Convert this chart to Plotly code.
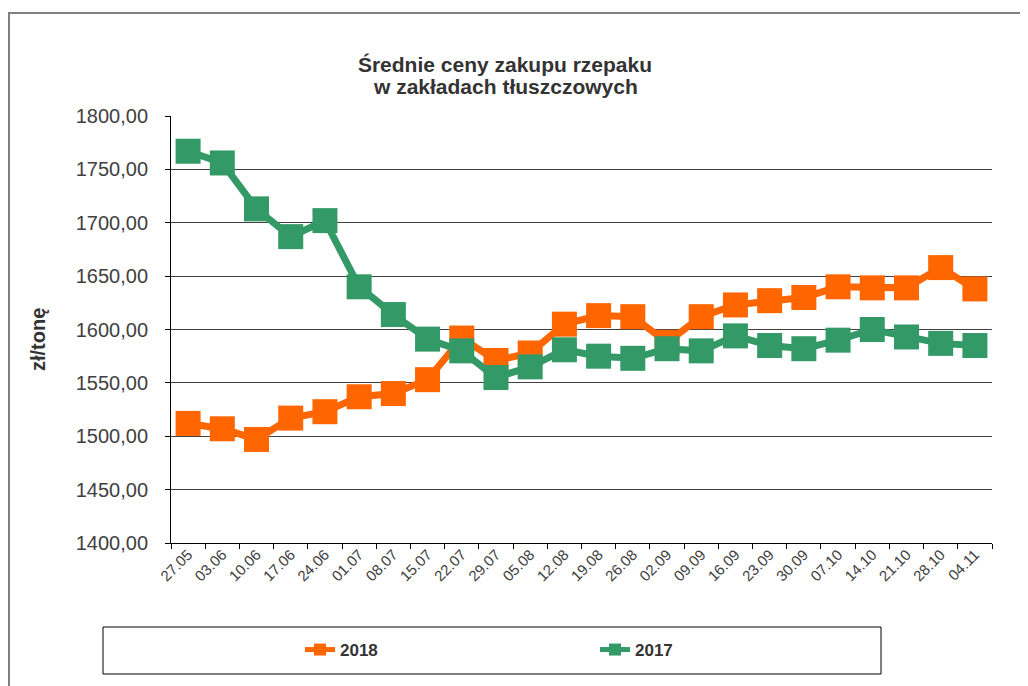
import plotly.graph_objects as go

# ---- data ----
categories = ["27.05", "03.06", "10.06", "17.06", "24.06", "01.07", "08.07", "15.07",
              "22.07", "29.07", "05.08", "12.08", "19.08", "26.08", "02.09", "09.09",
              "16.09", "23.09", "30.09", "07.10", "14.10", "21.10", "28.10", "04.11"]
values_2018 = [1512, 1507, 1497, 1517, 1523, 1537, 1540, 1553, 1592, 1571, 1578, 1605,
               1613, 1612, 1588, 1612, 1623, 1627, 1630, 1640, 1639, 1639, 1658, 1638]
values_2017 = [1767, 1756, 1713, 1687, 1702, 1640, 1614, 1591, 1580, 1555, 1565, 1581,
               1575, 1573, 1582, 1580, 1594, 1585, 1582, 1590, 1600, 1593, 1587, 1585]
series_names = ["2018", "2017"]
title_line1 = "Średnie ceny zakupu rzepaku"
title_line2 = "w zakładach tłuszczowych"
y_title = "zł/tonę"

ORANGE = "#FF6600"
GREEN = "#339966"
FONT = "Liberation Sans, Arial, sans-serif"

# page body has an 8px margin: figure sized so it ends at the window edge
W, H = 1020, 678
L, R, T, B = 163, 36, 108, 143
PW, PH = W - L - R, H - T - B


def px_x(wx):
    """window x -> paper x"""
    return (wx - 8 - L) / PW


def px_y(wy):
    """window y -> paper y"""
    return (H - B - (wy - 8)) / PH


fig = go.Figure()
fig.add_trace(go.Scatter(
    x=categories, y=values_2018, name=series_names[0], mode="lines+markers",
    line=dict(color=ORANGE, width=7),
    marker=dict(symbol="square", size=25, color=ORANGE, line=dict(width=0)),
))
fig.add_trace(go.Scatter(
    x=categories, y=values_2017, name=series_names[1], mode="lines+markers",
    line=dict(color=GREEN, width=7),
    marker=dict(symbol="square", size=25, color=GREEN, line=dict(width=0)),
))

fig.update_layout(
    width=W, height=H,
    margin=dict(l=L, r=R, t=T, b=B, autoexpand=False),
    paper_bgcolor="white", plot_bgcolor="white",
    separators=", ",
    font=dict(family=FONT, color="#404040"),
    title=dict(text=title_line1, xref="container", x=(505 - 8) / W, xanchor="center",
               yref="container", y=1 - (65 - 8) / H, yanchor="middle",
               font=dict(family=FONT, size=21, color="#333333", weight="bold")),
    showlegend=True,
    legend=dict(orientation="h", xref="paper", yref="paper",
                x=px_x(300), xanchor="left",
                y=px_y(650), yanchor="middle",
                entrywidth=250, entrywidthmode="pixels",
                itemsizing="constant",
                bgcolor="rgba(0,0,0,0)", borderwidth=0,
                font=dict(family=FONT, size=17, color="#333333", weight="bold")),
    xaxis=dict(type="category", range=[-0.5, len(categories) - 0.5],
               tickangle=-45, tickson="boundaries",
               ticks="outside", ticklen=5, tickcolor="black",
               ticklabelstandoff=-4,
               showline=True, linecolor="black", linewidth=1,
               showgrid=False, tickfont=dict(family=FONT, size=15, color="#404040")),
    yaxis=dict(range=[1400, 1800], dtick=50, tickformat=".2f",
               ticks="outside", ticklen=5, tickcolor="black",
               ticklabelstandoff=13,
               showline=True, linecolor="black", linewidth=1,
               showgrid=True, gridcolor="#404040", gridwidth=1,
               zeroline=False,
               tickfont=dict(family=FONT, size=20, color="#404040")),
    annotations=[
        dict(text="<b>" + title_line2 + "</b>", xref="paper", yref="paper",
             x=px_x(505), y=px_y(87), xanchor="center", yanchor="middle",
             showarrow=False, font=dict(family=FONT, size=21, color="#333333")),
        dict(text="<b>" + y_title + "</b>", xref="paper", yref="paper",
             x=px_x(38), y=px_y(340),
             xanchor="center", yanchor="middle", textangle=-90,
             showarrow=False,
             font=dict(family=FONT, size=20, color="#333333")),
    ],
    shapes=[
        # outer chart border (left and top visible)
        dict(type="rect", xref="paper", yref="paper",
             x0=px_x(9), x1=px_x(1045),
             y0=px_y(705), y1=px_y(13),
             line=dict(color="#808080", width=2), layer="below"),
        # legend box
        dict(type="rect", xref="paper", yref="paper",
             x0=px_x(103), x1=px_x(881),
             y0=px_y(674), y1=px_y(627),
             line=dict(color="black", width=1), layer="below"),
    ],
)

fig.write_html("out.html")
